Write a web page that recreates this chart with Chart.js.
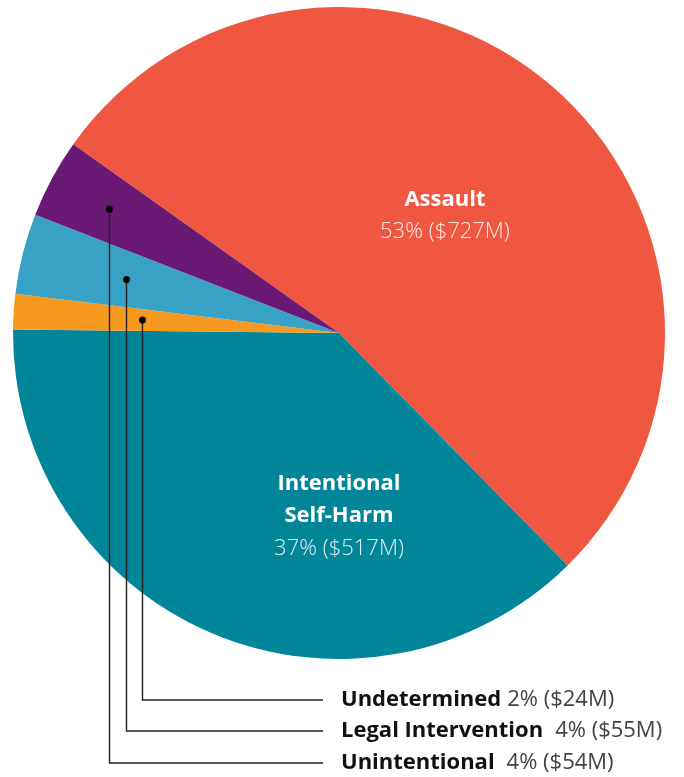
<!DOCTYPE html>
<html>
<head>
<meta charset="utf-8">
<script src="https://cdn.jsdelivr.net/npm/chart.js@4"></script>
<style>
  body { margin: 0; background: #fff; }
  #wrap { width: 684px; height: 777px; position: relative; }
</style>
</head>
<body>
<div id="wrap"><canvas id="pieChart"></canvas></div>
<script>
// data ($ millions)
const categories = ['Assault', 'Intentional Self-Harm', 'Undetermined', 'Legal Intervention', 'Unintentional'];
const costs = [727, 517, 24, 55, 54];
const percents = [53, 37, 2, 4, 4];
const colors = ['#F05740', '#008599', '#F8991F', '#37A2C6', '#6A1A74'];

const FONT = '"Open Sans", "Source Sans Pro", sans-serif';

function valueText(i) {
  return percents[i] + '% ($' + costs[i] + 'M)';
}

// labels inside the two big slices, placed relative to pie centre (in radius units)
const insideLabels = [
  { index: 0, lines: ['Assault'], dx: 0.325, dy: -0.360 },
  { index: 1, lines: ['Intentional', 'Self-Harm'], dx: 0, dy: 0.561 }
];

// small slices get a leader line down to a row under the pie
const calloutLabels = [
  { index: 2, dotR: 0.605, rowY: 700, gap: 6 },
  { index: 3, dotR: 0.675, rowY: 731, gap: 12 },
  { index: 4, dotR: 0.80, rowY: 763, gap: 12 }
];

const pieLabels = {
  id: 'pieLabels',
  afterDatasetsDraw(chart) {
    const ctx = chart.ctx;
    const arcs = chart.getDatasetMeta(0).data;
    const cx = arcs[0].x, cy = arcs[0].y, R = arcs[0].outerRadius;

    ctx.save();
    ctx.textAlign = 'center';
    ctx.textBaseline = 'middle';
    insideLabels.forEach(l => {
      const all = l.lines.concat([valueText(l.index)]);
      const lh = 32.5;
      const top = cy + l.dy * R - (all.length - 1) * lh / 2;
      all.forEach((t, k) => {
        const isVal = k === all.length - 1;
        ctx.font = (isVal ? '300 ' : 'bold ') + '22px ' + FONT;
        ctx.fillStyle = isVal ? 'rgba(255,255,255,0.88)' : '#ffffff';
        ctx.fillText(t, cx + l.dx * R, top + k * lh);
      });
    });

    const textX = cx + 2;
    const lineEnd = cx - 16;
    calloutLabels.forEach(c => {
      const a = arcs[c.index];
      const mid = (a.startAngle + a.endAngle) / 2;
      const px = Math.round(cx + Math.cos(mid) * R * c.dotR) + 0.5;
      const py = cy + Math.sin(mid) * R * c.dotR;

      ctx.strokeStyle = '#222';
      ctx.lineWidth = 1.4;
      ctx.beginPath();
      ctx.moveTo(px, py);
      ctx.lineTo(px, c.rowY);
      ctx.lineTo(lineEnd, c.rowY);
      ctx.stroke();

      ctx.fillStyle = '#000';
      ctx.beginPath();
      ctx.arc(px, py, 3.5, 0, Math.PI * 2);
      ctx.fill();

      ctx.textAlign = 'left';
      ctx.textBaseline = 'middle';
      ctx.font = 'bold 22px ' + FONT;
      ctx.fillStyle = '#111';
      const name = categories[c.index];
      ctx.fillText(name, textX, c.rowY);
      const w = ctx.measureText(name).width;
      ctx.font = '22px ' + FONT;
      ctx.fillStyle = '#444';
      ctx.fillText(valueText(c.index), textX + w + c.gap, c.rowY);
    });
    ctx.restore();
  }
};

const pieCtx = document.getElementById('pieChart').getContext('2d');

new Chart(pieCtx, {
  type: 'pie',
  data: {
    labels: categories,
    datasets: [{
      data: costs,
      backgroundColor: colors,
      borderWidth: 0
    }]
  },
  options: {
    responsive: true,
    maintainAspectRatio: false,
    animation: false,
    rotation: -54.6,
    layout: { padding: { left: 13, right: 19, top: 7, bottom: 118 } },
    plugins: {
      legend: { display: false },
      tooltip: { enabled: false }
    }
  },
  plugins: [pieLabels]
});
</script>
</body>
</html>
